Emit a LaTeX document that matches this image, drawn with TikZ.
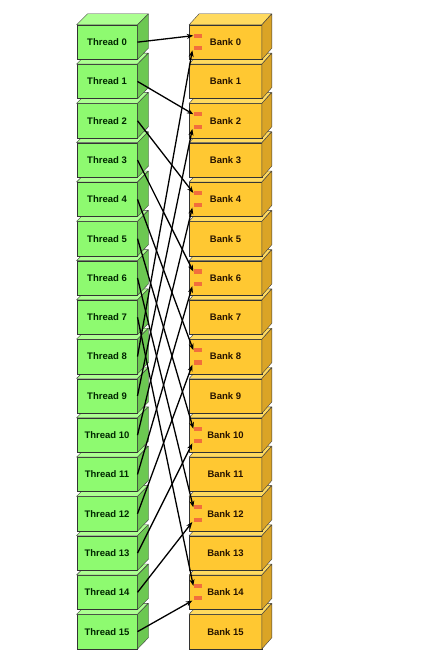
\documentclass[tikz,border=0pt]{standalone}
\usepackage{fontspec}
\setmainfont{Liberation Sans}
\usetikzlibrary{arrows.meta}

\definecolor{thrfront}{RGB}{142,250,112}
\definecolor{thrtop}{RGB}{172,255,145}
\definecolor{thrside}{RGB}{108,200,82}
\definecolor{bnkfront}{RGB}{255,200,50}
\definecolor{bnktop}{RGB}{255,218,95}
\definecolor{bnkside}{RGB}{218,164,38}
\definecolor{markfill}{RGB}{242,110,60}

\begin{document}
\begin{tikzpicture}[x=1pt, y=-1pt,
    every node/.style={font=\bfseries\fontsize{9.5}{11}\selectfont},
    thread/.style={draw=black!80, fill=thrfront, minimum width=60.6pt,
                   minimum height=34.3pt, inner sep=0pt, text=black!85!green},
    bank/.style={draw=black!80, fill=bnkfront, minimum width=72.4pt,
                 minimum height=34.3pt, inner sep=0pt, text=black!85!orange},
    face/.style={draw=black!75, line join=round},
    slot/.style={fill=markfill, minimum width=8pt, minimum height=4.2pt,
                 inner sep=0pt},
    arr/.style={-{Stealth[length=6.5pt,width=5pt]}, line width=1.3pt}
]
\useasboundingbox (0,0) rectangle (431,668);

% stacks, drawn from the bottom up
\foreach \i in {15,14,...,0} {
  \node[thread] (t\i) at (107,42.15+39.3*\i) {Thread \i};
  \draw[face, fill=thrtop] (t\i.north west) -- ++(11,-11) -- ++(60.6,0)
        -- (t\i.north east) -- cycle;
  \draw[face, fill=thrside] (t\i.north east) -- ++(11,-11) -- ++(0,34.3)
        -- (t\i.south east) -- cycle;
  \node[bank] (b\i) at (225.5,42.15+39.3*\i) {Bank \i};
  \draw[face, fill=bnktop] (b\i.north west) -- ++(10,-11) -- ++(72.4,0)
        -- (b\i.north east) -- cycle;
  \draw[face, fill=bnkside] (b\i.north east) -- ++(10,-11) -- ++(0,34.3)
        -- (b\i.south east) -- cycle;
}

% two slots in every even bank
\foreach \j in {0,2,...,14} {
  \node[slot] (su\j) at (197.5,35.65+39.3*\j) {};
  \node[slot] (sl\j) at (197.5,48.15+39.3*\j) {};
}

% stride-2 access
\foreach \i [evaluate=\i as \j using int(2*\i)] in {0,...,7}
  \draw[arr] (t\i.east) -- (su\j.west);
\foreach \i [evaluate=\i as \j using int(2*(\i-8))] in {8,...,15}
  \draw[arr] (t\i.east) -- ([xshift=-1pt]sl\j.south west);
\end{tikzpicture}
\end{document}
